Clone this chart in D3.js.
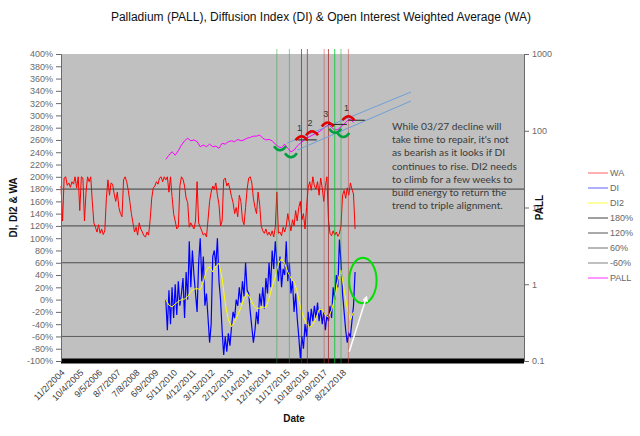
<!DOCTYPE html>
<html lang="en">
<head>
  <meta charset="UTF-8" />
  <title>Palladium (PALL), DI &amp; WA</title>
  <script src="https://d3js.org/d3.v7.min.js"></script>
  <style>
    body { margin: 0; padding: 0; background: #fff; }
    svg { display: block; font-family: "Liberation Sans", Arial, sans-serif; }
    .axis text { fill: #6a6a6a; font-size: 9px; font-family: "Liberation Sans", Arial, sans-serif; }
    .axis .domain, .axis line { stroke: #6a6a6a; }
    .xlab text { fill: #3a3a3a; font-size: 9px; }
    .note { font-family: Lato, "Open Sans", sans-serif; font-size: 10.2px; fill: #3a3a3a; }
    .lbl { font-size: 10px; font-weight: bold; fill: #111; }
  </style>
</head>
<body>
<svg width="640" height="436"></svg>
<script>
// weekly categories, week 0 = 11/2/2004
const totalWeeks = 1184;
const tickWeeks  = [0, 48, 96, 144, 192, 240, 288, 336, 384, 432, 480, 528, 576, 624, 672, 720];
const tickLabels = ["11/2/2004", "10/4/2005", "9/5/2006", "8/7/2007", "7/8/2008", "6/9/2009",
  "5/11/2010", "4/12/2011", "3/13/2012", "2/12/2013", "1/14/2014", "12/16/2014",
  "11/17/2015", "10/18/2016", "9/19/2017", "8/21/2018"];

// WA (%), sampled every 4 weeks from week 0
const waStart = 0, waStep = 4;
const waValues = [
  185,128,198,200,186,190,183,192,188,200,182,200,145,200,198,128,175,200,192,200,
  160,125,118,110,122,108,115,106,112,165,195,170,190,188,172,160,175,150,140,135,
  195,200,192,178,160,140,125,110,118,105,125,115,110,104,102,110,105,130,165,182,
  185,192,188,198,200,192,200,195,200,175,200,168,140,128,115,118,185,200,196,185,
  165,158,118,125,120,115,128,192,125,118,112,105,108,102,130,160,175,185,180,190,
  170,155,120,128,195,198,185,190,180,168,158,140,150,135,170,160,130,122,150,180,
  198,200,190,165,150,140,175,155,120,112,108,115,105,110,104,112,102,118,175,108,
  110,104,118,110,120,140,125,112,130,120,145,128,150,160,130,140,115,150,182,192,
  178,200,185,180,192,170,198,182,160,185,200,130,108,104,112,105,110,103,108,120,
  170,178,165,182,170,190,180,172,115
];

// DI (%), every 4 weeks from week 268
const diStart = 268, diStep = 4;
const diValues = [
  0,-50,15,-40,20,-30,25,-25,30,-10,10,35,-30,45,0,95,20,80,40,10,
  -20,60,100,30,70,-10,10,-30,-70,-40,70,80,55,100,30,0,-50,-90,-60,-85,
  -55,-75,-45,-20,-30,0,-10,20,-5,30,5,60,15,10,-20,-45,-70,-50,-20,-40,
  10,-10,20,-15,35,10,60,20,80,50,95,60,30,70,20,50,40,95,30,60,
  10,30,-20,10,-30,-60,-95,-60,-80,-40,-60,-20,-45,-15,-35,-10,-30,-5,-35,-15,
  -40,-20,-50,-25,-35,-10,-30,20,0,40,20,98,60,10,-20,-50,-70,-55,-60,-35,
  -10,45
];

// DI2 (%), every 8 weeks from week 268
const di2Start = 268, di2Step = 8;
const di2Values = [
  0,-9,-12,-7,-3,0,1,5,13,17,18,16,29,48,54,45,54,59,35,-6,
  -33,-44,-36,-25,-13,2,10,2,-9,-14,-14,-12,-13,2,21,37,59,67,59,45,
  35,29,13,-12,-28,-39,-45,-41,-31,-16,-16,-25,-29,-17,2,32,48,16,-14,-33,
  -20
];

// PALL price, every 8 weeks from week 268
const pallStart = 268, pallStep = 8;
const pallValues = [
  42.5,48,53.4,48,55,65,74,80,74,76,72,62,65,62,67,62,63,59,68.6,67,
  72,74,72,77,74,76,80,82,85,85,88,80,76,77,74,67,62,60,67,59,
  53,56,63,69,74,80,84,88,93,97,104,113,119,111,102,104,113,122,135,142,
  128
];

const refLevels = [180, 120, 60, -60];

// event lines (week index)
const greenWeeks = [552, 584, 700, 716];
const redWeeks   = [615, 630, 673, 684, 735];

// PALL chart annotations (week, price)
const caps = [ {w: 615, v: 80, label: "1"}, {w: 642, v: 93, label: "2"},
               {w: 682, v: 121, label: "3"}, {w: 735, v: 145, label: "1"} ];
const cups = [ {w: 560, v: 59}, {w: 588, v: 48}, {w: 701, v: 100}, {w: 722, v: 88} ];
const levels = [ {w1: 605, w2: 654, v: 76}, {w1: 683, w2: 731, v: 121}, {w1: 735, w2: 777, v: 137} ];
const channel = [ {w1: 578, v1: 69, w2: 895, v2: 320}, {w1: 604, v1: 56, w2: 895, v2: 244} ];
const ring  = {w: 772, p: 31, rw: 35, rp: 37};
const arrow = {w1: 737, p1: -85, w2: 780, p2: 2};

const noteLines = [
  "While 03/27  decline will",
  "take time to repair,  it's not",
  "as bearish as it  looks if DI",
  "continues to rise. DI2 needs",
  "to climb for a few weeks to",
  "build energy to return the",
  "trend to triple alignment."
];
const legendNames = ["WA", "DI", "DI2", "180%", "120%", "60%", "-60%", "PALL"];

const svg = d3.select("svg");
const L = 61, R = 524, T = 54, B = 361;

const x  = d3.scaleLinear().domain([0, totalWeeks]).range([L, R]);
const yL = d3.scaleLinear().domain([-100, 400]).range([B, T]);
const yR = d3.scaleLog().domain([0.1, 1000]).range([B, T]);

const toPts = (vals, start, step) => vals.map((v, i) => [start + i * step, v]);

svg.append("text").attr("x", 321).attr("y", 21).attr("text-anchor", "middle")
  .style("font-size", "12px").attr("fill", "#111")
  .text("Palladium (PALL), Diffusion Index (DI) & Open Interest Weighted Average (WA)");

svg.append("rect").attr("x", L).attr("y", T).attr("width", R - L).attr("height", B - T)
  .attr("fill", "#c0c0c0");

// reference levels
const refColors = ["#3c3c3c", "#444", "#4e4e4e", "#5a5a5a"];
refLevels.forEach((lv, i) => {
  svg.append("line").attr("x1", L).attr("x2", R)
    .attr("y1", yL(lv)).attr("y2", yL(lv))
    .attr("stroke", refColors[i]).attr("stroke-width", 1);
});

const lineL = d3.line().x(d => x(d[0])).y(d => yL(d[1]));
const lineR = d3.line().x(d => x(d[0])).y(d => yR(d[1]));

svg.append("path").attr("d", lineL(toPts(waValues, waStart, waStep)))
  .attr("fill", "none").attr("stroke", "#ff0000").attr("stroke-width", 1);
svg.append("path").attr("d", lineL(toPts(diValues, diStart, diStep)))
  .attr("fill", "none").attr("stroke", "#0000ff").attr("stroke-width", 1.2);
svg.append("path").attr("d", lineL(toPts(di2Values, di2Start, di2Step)))
  .attr("fill", "none").attr("stroke", "#ffff00").attr("stroke-width", 1);
svg.append("path").attr("d", lineR(toPts(pallValues, pallStart, pallStep)))
  .attr("fill", "none").attr("stroke", "#ff00ff").attr("stroke-width", 1);

// black base bar at -100%
svg.append("line").attr("x1", L).attr("x2", R).attr("y1", yL(-100)).attr("y2", yL(-100))
  .attr("stroke", "#000").attr("stroke-width", 5);

// event lines
const greenCols = ["rgba(40,160,60,0.5)", "rgba(40,160,60,0.5)", "rgba(0,200,40,0.8)", "rgba(40,170,60,0.55)"];
const redCols = ["rgba(150,20,20,0.7)", "rgba(170,30,30,0.7)", "rgba(200,70,70,0.5)", "rgba(170,30,30,0.7)", "rgba(200,70,70,0.55)"];
greenWeeks.forEach((w, i) => svg.append("line").attr("x1", x(w)).attr("x2", x(w))
  .attr("y1", T - 5).attr("y2", B + 2).attr("stroke", greenCols[i]).attr("stroke-width", 1));
redWeeks.forEach((w, i) => svg.append("line").attr("x1", x(w)).attr("x2", x(w))
  .attr("y1", T - 5).attr("y2", B + 2).attr("stroke", redCols[i]).attr("stroke-width", 1));

// trend channel
channel.forEach(c => svg.append("line")
  .attr("x1", x(c.w1)).attr("y1", yR(c.v1)).attr("x2", x(c.w2)).attr("y2", yR(c.v2))
  .attr("stroke", "#6f9fd8").attr("stroke-width", 1));

levels.forEach(l => svg.append("line")
  .attr("x1", x(l.w1)).attr("x2", x(l.w2)).attr("y1", yR(l.v)).attr("y2", yR(l.v))
  .attr("stroke", "#222").attr("stroke-width", 1));

caps.forEach(c => {
  const cx = x(c.w), cy = yR(c.v);
  svg.append("path").attr("d", `M${cx - 6},${cy + 2} Q${cx},${cy - 6} ${cx + 6},${cy + 2}`)
    .attr("fill", "none").attr("stroke", "#e00000").attr("stroke-width", 2.5);
  svg.append("text").attr("x", cx - 2).attr("y", cy - 7).attr("text-anchor", "middle")
    .style("font-size", "9px").attr("fill", "#333").text(c.label);
});
cups.forEach(c => {
  const cx = x(c.w), cy = yR(c.v);
  svg.append("path").attr("d", `M${cx - 6},${cy - 2} Q${cx},${cy + 6} ${cx + 6},${cy - 2}`)
    .attr("fill", "none").attr("stroke", "#00a040").attr("stroke-width", 2.5);
});

// green ring and white arrow
svg.append("ellipse").attr("cx", x(ring.w)).attr("cy", yL(ring.p))
  .attr("rx", x(ring.w + ring.rw) - x(ring.w)).attr("ry", yL(ring.p - ring.rp) - yL(ring.p))
  .attr("fill", "none").attr("stroke", "#00e000").attr("stroke-width", 2);
svg.append("defs").append("marker").attr("id", "ah").attr("viewBox", "0 0 10 10")
  .attr("refX", 5).attr("refY", 5).attr("markerWidth", 4).attr("markerHeight", 4)
  .attr("orient", "auto").append("path").attr("d", "M0,0L10,5L0,10z").attr("fill", "#fff");
svg.append("line").attr("x1", x(arrow.w1)).attr("y1", yL(arrow.p1))
  .attr("x2", x(arrow.w2)).attr("y2", yL(arrow.p2))
  .attr("stroke", "#fff").attr("stroke-width", 1.5).attr("marker-end", "url(#ah)");

// note text box
const note = svg.append("text").attr("class", "note");
noteLines.forEach((t, i) => note.append("tspan").attr("x", 392).attr("y", 130 + i * 13.2).text(t));

// axes
svg.append("g").attr("class", "axis").attr("transform", `translate(${L},0)`)
  .call(d3.axisLeft(yL).tickValues(d3.range(-100, 401, 20)).tickSize(5).tickFormat(d => d + "%"));
svg.append("g").attr("class", "axis").attr("transform", `translate(${R},0)`)
  .call(d3.axisRight(yR).tickValues([0.1, 1, 10, 100, 1000]).tickSize(5).tickFormat(d => String(d)));

svg.append("g").attr("class", "xlab").selectAll("text").data(tickWeeks).join("text")
  .attr("transform", d => `translate(${x(d) + 2},${B + 10}) rotate(-45)`)
  .attr("text-anchor", "end").attr("dy", "0.35em")
  .text((d, i) => tickLabels[i]);

svg.append("text").attr("class", "lbl").attr("transform", `translate(17,${(T + B) / 2}) rotate(-90)`)
  .attr("text-anchor", "middle").text("DI, DI2 & WA");
svg.append("text").attr("class", "lbl").attr("transform", `translate(543,${(T + B) / 2}) rotate(-90)`)
  .attr("text-anchor", "middle").text("PALL");
svg.append("text").attr("class", "lbl").attr("x", 294).attr("y", 422)
  .attr("text-anchor", "middle").text("Date");

// legend
const legCols = ["#ff6060", "#6060ff", "#ffff40", "#404040", "#555", "#707070", "#808080", "#ff30ff"];
const leg = svg.append("g").attr("transform", "translate(588,173)");
legendNames.forEach((n, i) => {
  leg.append("line").attr("x1", 0).attr("x2", 20).attr("y1", i * 15).attr("y2", i * 15)
    .attr("stroke", legCols[i]).attr("stroke-width", 1);
  leg.append("text").attr("x", 22).attr("y", i * 15).attr("dy", "0.35em")
    .style("font-size", "9px").attr("fill", "#666").text(n);
});
</script>
</body>
</html>
